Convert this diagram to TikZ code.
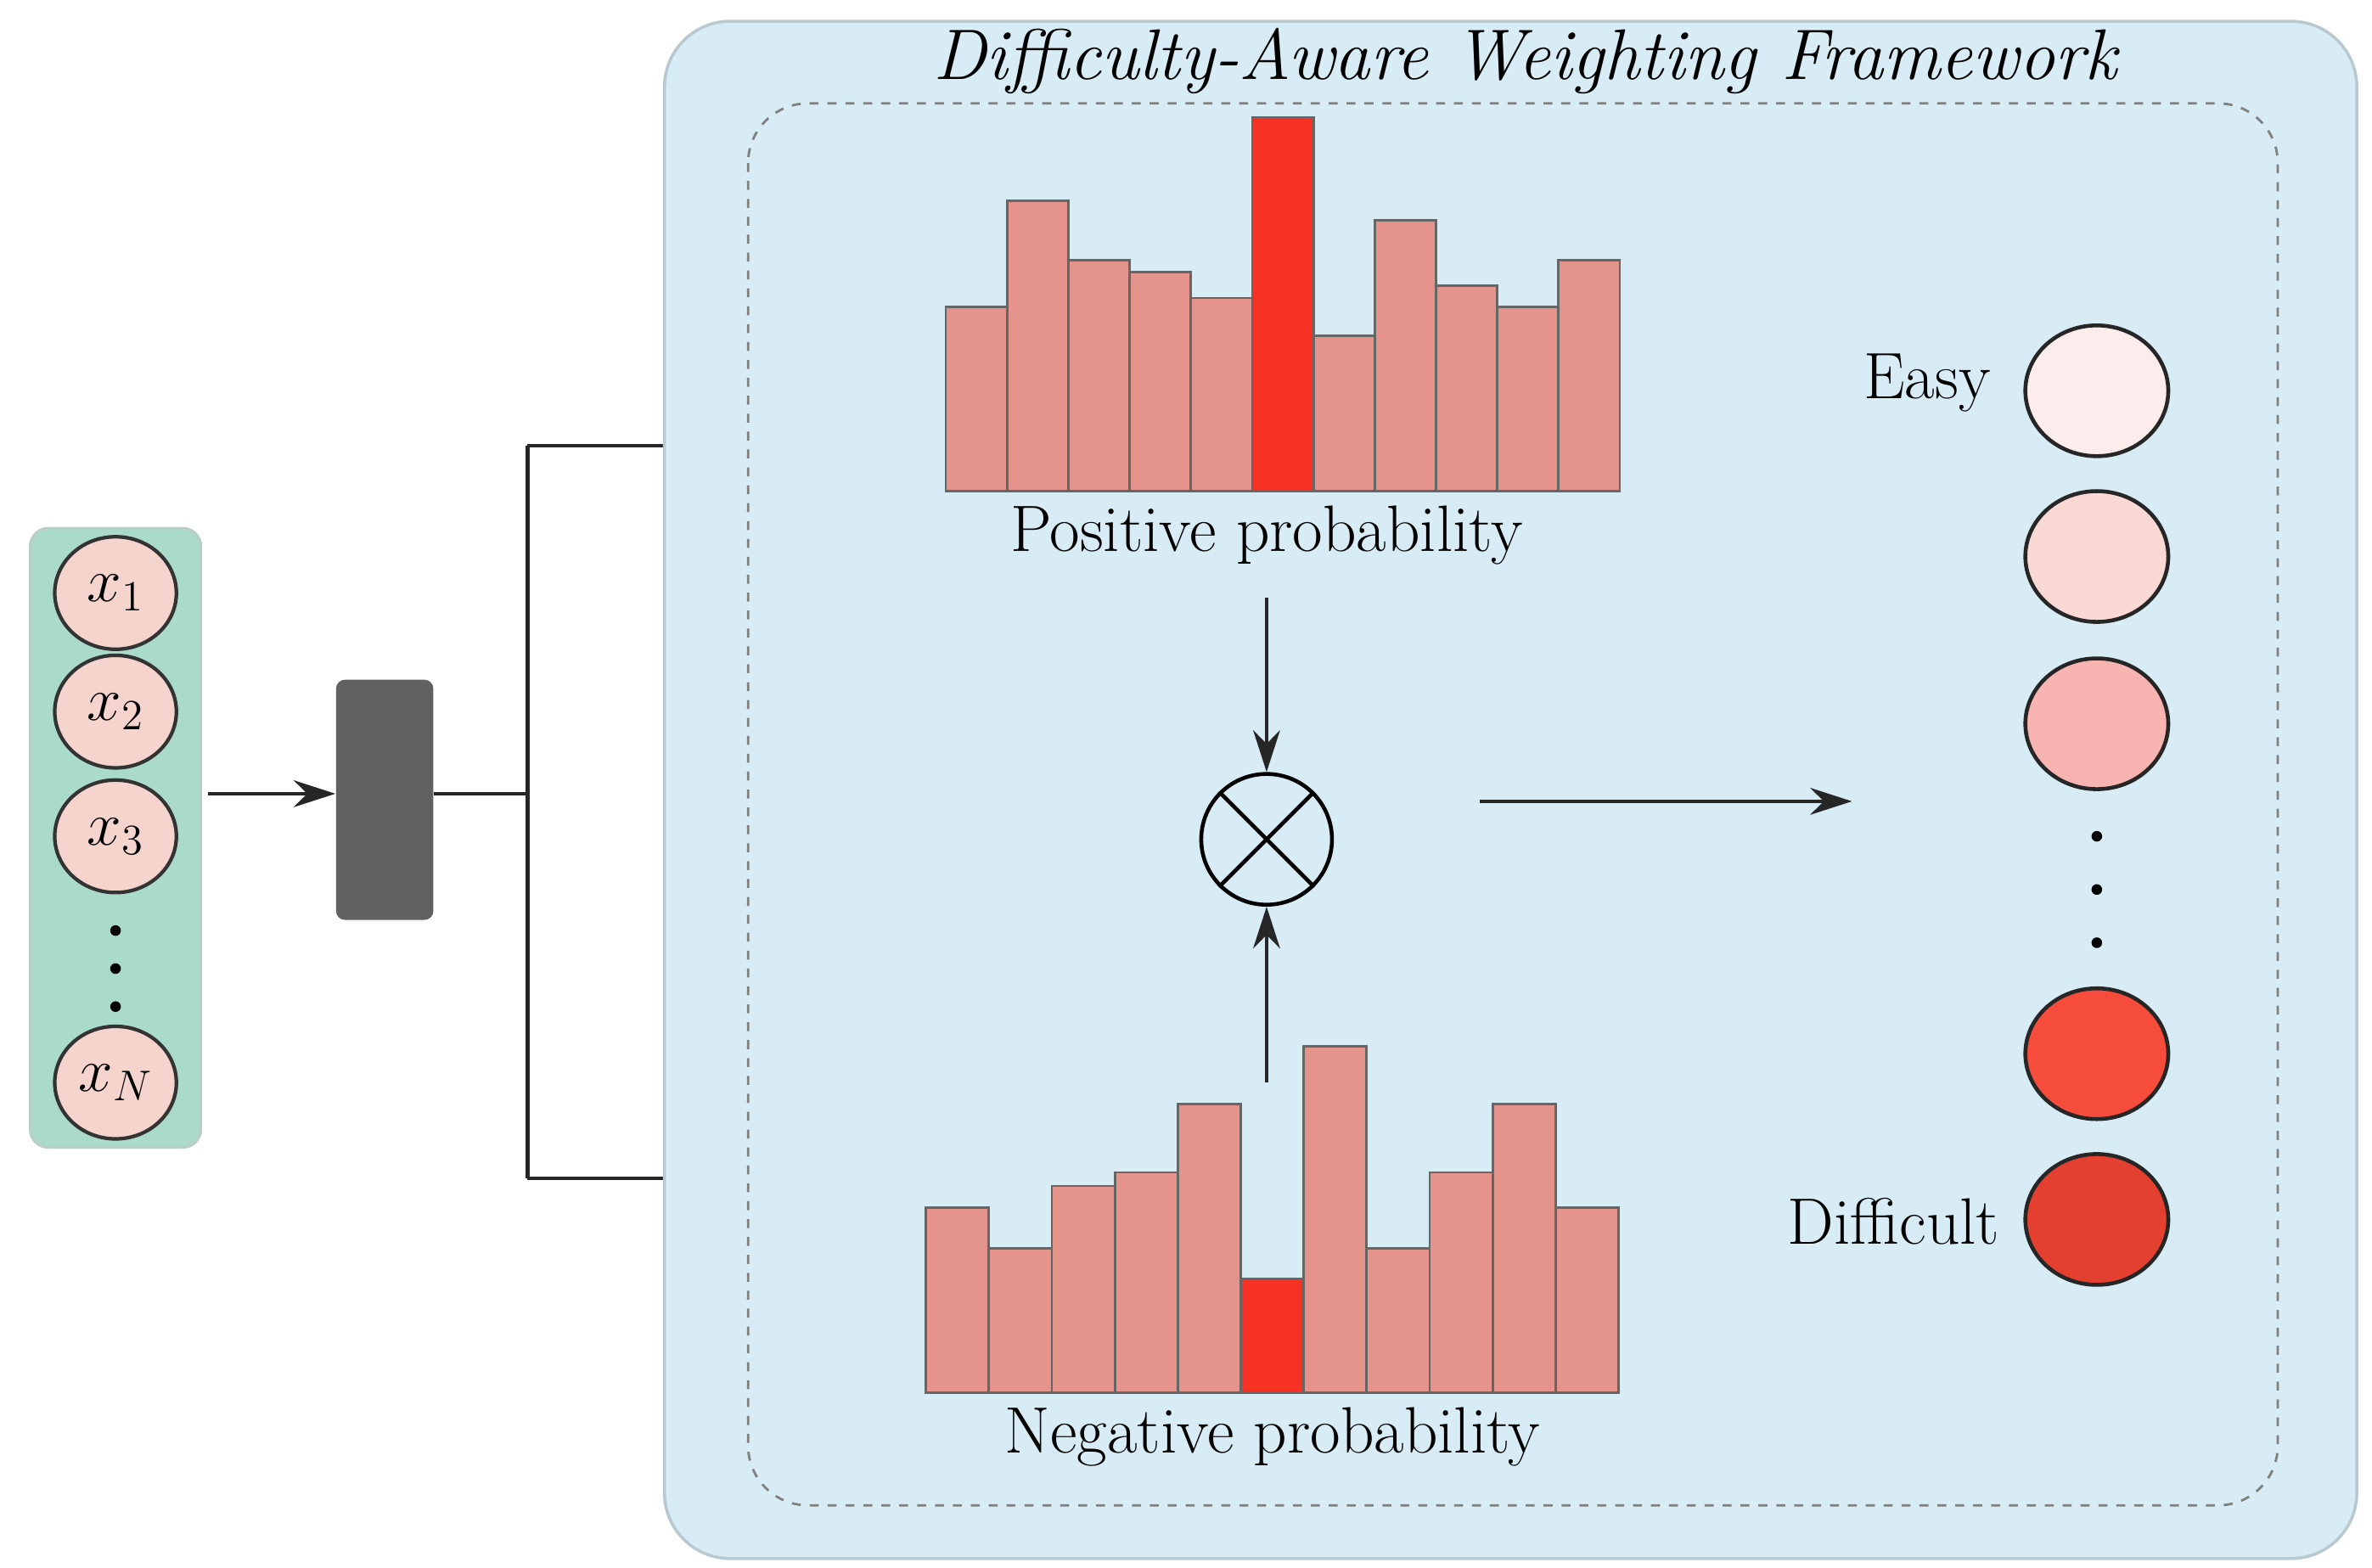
\documentclass[tikz,border=0pt]{standalone}
\usetikzlibrary{arrows.meta,shapes.geometric}
\begin{document}
\begin{tikzpicture}[x=0.01791cm,y=-0.01791cm,
 lbl/.style={font=\fontsize{22}{26}\selectfont},
 ar/.style={-{Stealth[length=14pt,width=9pt]},line width=1.3pt,black!85},
 ln/.style={line width=1.3pt,black!85},
 bar/.style={draw=black!60,line width=0.8pt,fill=barc},
 rb/.style={draw=black!60,line width=0.8pt,fill=barred}]
\definecolor{xpink}{RGB}{245,212,206}
\definecolor{teal}{RGB}{170,218,202}
\definecolor{panel}{RGB}{216,236,245}
\definecolor{barc}{RGB}{228,148,138}
\definecolor{barred}{RGB}{245,50,35}
\useasboundingbox (0,0) rectangle (1560,1031);
% left input column
\node[draw=teal!80!black!60,fill=teal,rounded corners=6pt,line width=1pt,minimum width=112*0.01791cm,minimum height=407*0.01791cm] (col) at (76,551) {};
\foreach \n/\y/\t in {a/390/x_1,b/468/x_2,c/550/x_3,d/712/x_N}
 \node[draw=black!80,fill=xpink,line width=1.2pt,ellipse,minimum width=80*0.01791cm,minimum height=74*0.01791cm,inner sep=0pt] (\n) at (76,\y) {\fontsize{20}{24}\selectfont$\t$};
\foreach \y in {612,637,662} \fill (76,\y) circle (3.5);
% gray block
\node[fill=black!62,rounded corners=3pt,minimum width=64*0.01791cm,minimum height=158*0.01791cm] (g) at (253,526) {};
\coordinate (in) at (137,522);
\draw[ar] (in) -- (g.west|-in);
\coordinate (s) at (347,522);
\coordinate (t1) at (347,293);\coordinate (t2) at (347,775);
\coordinate (e1) at (478,293);\coordinate (e2) at (478,775);
\draw[ln] (g.east|-in) -- (s);
\draw[ln] (t1) -- (t2);
\draw[ar] (t1) -- (e1);
\draw[ar] (t2) -- (e2);
% panel
\node[draw=panel!85!black,fill=panel,rounded corners=22pt,line width=1pt,minimum width=1113*0.01791cm,minimum height=1011*0.01791cm] (pan) at (993.5,519.5) {};
\node[font=\fontsize{24}{28}\selectfont\itshape] (title) at (1003,40) {Difficulty-Aware Weighting Framework};
\draw[dashed,black!50,line width=0.8pt,rounded corners=20pt] (492,68) rectangle (1498,990);
% top histogram
\foreach \h [count=\i from 0] in {202,132,171,179,196,77,221,145,188,202,171}{
 \pgfmathsetmacro\xa{622+\i*40.3}\pgfmathsetmacro\xb{622+(\i+1)*40.3}
 \ifnum\i=5 \draw[rb] (\xa,\h) rectangle (\xb,323); \else \draw[bar] (\xa,\h) rectangle (\xb,323);\fi}
\node[lbl] (pos) at (833,352) {Positive probability};
% bottom histogram
\foreach \h [count=\i from 0] in {794,821,780,771,726,841,688,821,771,726,794}{
 \pgfmathsetmacro\xa{609+\i*41.4}\pgfmathsetmacro\xb{609+(\i+1)*41.4}
 \ifnum\i=5 \draw[rb] (\xa,\h) rectangle (\xb,916); \else \draw[bar] (\xa,\h) rectangle (\xb,916);\fi}
\node[lbl] (neg) at (837,945) {Negative probability};
% otimes
\node[circle,draw,line width=1.3pt,minimum size=86*0.01791cm] (ot) at (833,552) {};
\draw[line width=1.3pt] (ot.north west) -- (ot.south east) (ot.north east) -- (ot.south west);
\coordinate (pa) at (833,393);\coordinate (na) at (833,712);
\draw[ar] (pa) -- (ot.north);
\draw[ar] (na) -- (ot.south);
\coordinate (o1) at (973,527);\coordinate (o2) at (1218,527);
\draw[ar] (o1) -- (o2);
% right circles
\definecolor{c1}{RGB}{252,236,236}\definecolor{c2}{RGB}{250,216,212}
\definecolor{c3}{RGB}{248,180,176}\definecolor{c4}{RGB}{246,76,60}\definecolor{c5}{RGB}{228,64,48}
\foreach \n/\y in {1/257,2/366,3/476,4/693,5/802}
 \node[ellipse,draw=black!85,line width=1.3pt,fill=c\n,minimum width=94*0.01791cm,minimum height=86*0.01791cm] (r\n) at (1379,\y) {};
\foreach \y in {550,585,620} \fill (1379,\y) circle (3.5);
\node[lbl,anchor=east] (easy) at (1316,252) {Easy};
\node[lbl,anchor=east] (diff) at (1322,803) {Difficult};
\end{tikzpicture}
\end{document}
